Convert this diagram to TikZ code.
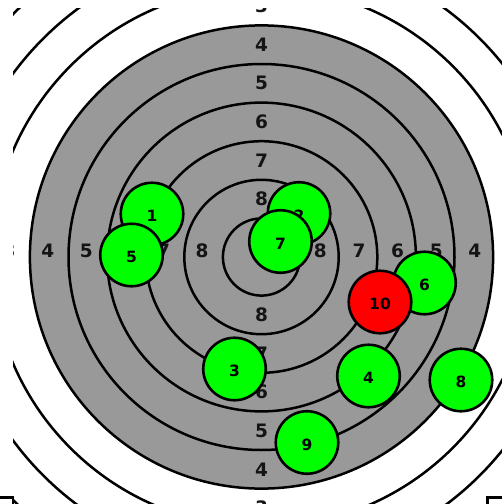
\documentclass[tikz,border=0pt]{standalone}
\usepackage{fontspec}
\setmainfont{DejaVu Sans}
\definecolor{tgray}{HTML}{999999}
\definecolor{shotgreen}{HTML}{00FF00}
\definecolor{shotred}{HTML}{FF0000}
\begin{document}
\begin{tikzpicture}[x=1pt,y=-1pt,
  ring/.style={line width=2.5pt},
  lab/.style={font=\bfseries\fontsize{18.5}{18.5}\selectfont, inner sep=0pt, text=black!92},
  shot/.style={circle, draw, line width=2.6pt, fill=shotgreen, minimum size=62.5pt, inner sep=0pt,
    text height=15.4pt, text depth=0pt,
    font=\bfseries\fontsize{15.5}{15.5}\selectfont},
  hit/.style={shot, fill=shotred}]
\useasboundingbox (0,0) rectangle (502,504);
\coordinate (c) at (261.5,257);
\begin{scope}
  \clip (13,8) rectangle (560,560);
  \fill[tgray] (c) circle (231.6pt);
  \foreach \k in {1,...,9} \draw[ring] (c) circle ({38.6*\k pt});
  \foreach \n in {3,...,8} {
    \pgfmathsetmacro{\d}{(9.5-\n)*38.6}
    \node[lab] (top\n) at (261.5,257-\d) {\n};
    \node[lab] (bot\n) at (261.5,257+\d) {\n};
    \node[lab, anchor=base] (lft\n) at (260-\d,257) {\n};
    \node[lab, anchor=base] (rgt\n) at (262.5+\d,257) {\n};
  }
\end{scope}
\draw[line width=2.2pt] (-5,497.5) -| (13,530);
\draw[line width=2.2pt] (510,497.5) -| (487.5,530);
\node[shot] (s1) at (152,214) {1};
\node[shot] (s2) at (299,213.5) {2};
\node[shot] (s3) at (234.5,369) {3};
\node[shot] (s4) at (368.5,376) {4};
\node[shot] (s5) at (131.5,255) {5};
\node[shot] (s6) at (424.5,283) {6};
\node[shot] (s7) at (280.5,241.5) {7};
\node[shot] (s8) at (461,380) {8};
\node[shot] (s9) at (307,442.5) {9};
\node[hit] (s10) at (380,302) {10};
\end{tikzpicture}
\end{document}
